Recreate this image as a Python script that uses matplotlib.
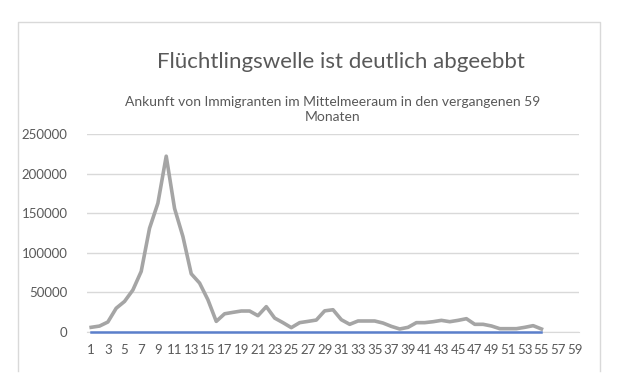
import numpy as np
import matplotlib
matplotlib.use("Agg")
import matplotlib.pyplot as plt
from matplotlib.lines import Line2D

plt.rcParams["font.family"] = ["Lato", "DejaVu Sans"]

months = list(range(1, 60))
arrivals = [5900, 7500, 12600, 30000, 38600, 53000, 76500, 131000, 162600, 222000,
            156000, 120600, 73500, 61800, 40700, 13400, 23000, 24800, 26500, 26500,
            20600, 32000, 17600, 11800, 5500, 11800, 13400, 15100, 26700, 28100,
            15500, 9700, 13900, 13900, 13900, 11300, 7100, 3800, 5900, 11800,
            11800, 13000, 14700, 13000, 14700, 16800, 9700, 9700, 7600, 4200,
            4200, 4200, 5900, 8000, 3800]
zero_series = [0] * len(arrivals)
yticks = [0, 50000, 100000, 150000, 200000, 250000]
xtick_labels = [str(m) for m in months[::2]]

title = "Flüchtlingswelle ist deutlich abgeebbt"
subtitle = "Ankunft von Immigranten im Mittelmeeraum in den vergangenen 59\nMonaten"

fig = plt.figure(figsize=(6.2, 3.92), dpi=100)
ax = fig.add_axes([87 / 620, 1 - 332 / 392, 492 / 620, 198 / 392])

x = np.arange(1, len(arrivals) + 1)
ax.plot(x, arrivals, color="#a5a5a5", lw=2.6, solid_joinstyle="round", zorder=3)
ax.plot(x, zero_series, color="#5b7fcb", lw=1.8, zorder=4, clip_on=False)

ax.set_xlim(0.5, 59.5)
ax.set_ylim(0, 250000)
ax.set_yticks(yticks)
ax.set_yticklabels([str(t) for t in yticks])
ax.set_xticks(months[::2])
ax.set_xticklabels(xtick_labels)
ax.tick_params(axis="both", length=0, colors="#595959", labelsize=9.5)
ax.tick_params(axis="y", pad=14)
ax.tick_params(axis="x", pad=9)
ax.grid(axis="y", color="#d9d9d9", lw=1)
ax.set_axisbelow(True)
for side in ["top", "right", "left"]:
    ax.spines[side].set_visible(False)
ax.spines["bottom"].set_color("#d9d9d9")

fig.text(341 / 620, 1 - 62 / 392, title, ha="center", va="center",
         fontsize=16, color="#595959")
fig.text(333 / 620, 1 - 110 / 392, subtitle, ha="center", va="center",
         fontsize=10, color="#595959", linespacing=1.3)

# chart frame (bottom edge is cut off in the screenshot)
fx = [18 / 620, 18 / 620, 600 / 620, 600 / 620]
fy = [1 - 371 / 392, 1 - 22 / 392, 1 - 22 / 392, 1 - 371 / 392]
fig.add_artist(Line2D(fx, fy, color="#d9d9d9", lw=1))

fig.savefig("out.png", dpi=100)
